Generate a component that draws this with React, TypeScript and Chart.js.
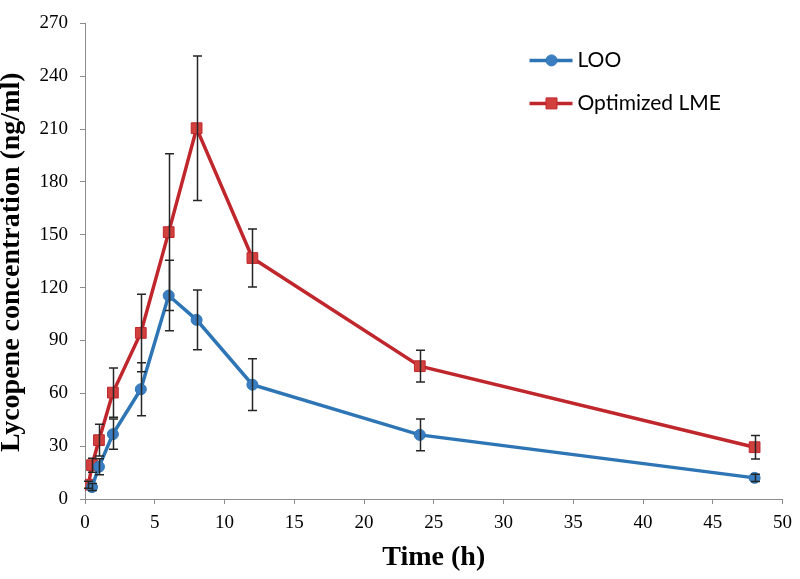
import React, { useEffect, useRef } from 'react';
import { Chart, registerables } from 'chart.js';

Chart.register(...registerables);

// ---- Data ----
const looTimes = [0.5, 1, 2, 4, 6, 8, 12, 24, 48];
const looValues = [6.8, 18.3, 36.8, 62.3, 115.5, 101.7, 64.9, 36.4, 12.0];
const looErrors = [2, 4.5, 8.6, 15, 20, 17, 14.7, 9, 2];

const lmeTimes = [0.25, 0.5, 1, 2, 4, 6, 8, 12, 24, 48];
const lmeValues = [8.1, 19.2, 33.4, 60.4, 94.3, 151.5, 210.5, 136.8, 75.4, 29.4];
const lmeErrors = [2, 4, 9, 14, 22, 44.5, 41, 16.5, 9, 6.7];

const seriesNames = ['LOO', 'Optimized LME'];
const xTitle = 'Time (h)';
const yTitle = 'Lycopene concentration (ng/ml)';

const BLUE = '#2E75B6';
const BLUE_FILL = '#3A7EC1';
const RED = '#C0272D';
const RED_FILL = '#D2403E';

const errorSets = [looErrors, lmeErrors];

const errorBarsPlugin = {
  id: 'errorBars',
  afterDatasetsDraw(chart: any) {
    const { ctx } = chart;
    const x = chart.scales.x;
    const y = chart.scales.y;
    ctx.save();
    ctx.strokeStyle = '#262626';
    ctx.lineWidth = 1.5;
    chart.data.datasets.forEach((ds: any, i: number) => {
      const errs = errorSets[i];
      ds.data.forEach((p: any, j: number) => {
        const e = errs[j];
        const px = Math.round(x.getPixelForValue(p.x)) + 0.5;
        const top = y.getPixelForValue(p.y + e);
        const bot = y.getPixelForValue(Math.max(0, p.y - e));
        const cap = 4.5;
        ctx.beginPath();
        ctx.moveTo(px, top);
        ctx.lineTo(px, bot);
        ctx.moveTo(px - cap, top);
        ctx.lineTo(px + cap, top);
        ctx.moveTo(px - cap, bot);
        ctx.lineTo(px + cap, bot);
        ctx.stroke();
      });
    });
    ctx.restore();
  },
};

const overlayPlugin = {
  id: 'overlay',
  afterDraw(chart: any) {
    const { ctx, chartArea } = chart;
    ctx.save();
    // Y axis title
    ctx.translate(12, (chartArea.top + chartArea.bottom) / 2 + 1);
    ctx.rotate(-Math.PI / 2);
    ctx.font = 'bold 28px "Liberation Serif"';
    ctx.fillStyle = '#000';
    ctx.textAlign = 'center';
    ctx.textBaseline = 'middle';
    ctx.fillText(yTitle, 0, 0);
    ctx.restore();

    // Legend
    const items = [
      { name: seriesNames[0], color: BLUE, fill: BLUE_FILL, style: 'circle', y: chartArea.top + 37 },
      { name: seriesNames[1], color: RED, fill: RED_FILL, style: 'rect', y: chartArea.top + 80 },
    ];
    const x0 = chartArea.right - 253;
    ctx.save();
    items.forEach((it) => {
      ctx.strokeStyle = it.color;
      ctx.lineWidth = 3.5;
      ctx.beginPath();
      ctx.moveTo(x0, it.y);
      ctx.lineTo(x0 + 43, it.y);
      ctx.stroke();
      ctx.fillStyle = it.fill;
      ctx.strokeStyle = it.color;
      ctx.lineWidth = 1;
      ctx.beginPath();
      if (it.style === 'circle') {
        ctx.arc(x0 + 22, it.y, 5.5, 0, Math.PI * 2);
      } else {
        ctx.rect(x0 + 22 - 5.5, it.y - 5.5, 11, 11);
      }
      ctx.fill();
      ctx.stroke();
      ctx.fillStyle = '#000';
      ctx.font = '21px Lato';
      ctx.textAlign = 'left';
      ctx.textBaseline = 'middle';
      ctx.fillText(it.name, x0 + 48, it.y);
    });
    ctx.restore();
  },
};

export default function App() {
  const ref = useRef<HTMLCanvasElement | null>(null);

  useEffect(() => {
    if (!ref.current) return;
    const chart = new Chart(ref.current, {
      type: 'line',
      data: {
        datasets: [
          {
            label: seriesNames[0],
            data: looTimes.map((t, i) => ({ x: t, y: looValues[i] })),
            borderColor: BLUE,
            backgroundColor: BLUE_FILL,
            pointBackgroundColor: BLUE_FILL,
            pointBorderColor: BLUE,
            borderWidth: 3.5,
            pointStyle: 'circle',
            pointRadius: 5.5,
            pointBorderWidth: 1,
            tension: 0,
          },
          {
            label: seriesNames[1],
            data: lmeTimes.map((t, i) => ({ x: t, y: lmeValues[i] })),
            borderColor: RED,
            backgroundColor: RED_FILL,
            pointBackgroundColor: RED_FILL,
            pointBorderColor: RED,
            borderWidth: 3.5,
            pointStyle: 'rect',
            pointRadius: 7.6,
            pointBorderWidth: 1,
            tension: 0,
          },
        ],
      },
      options: {
        responsive: false,
        animation: false,
        layout: { padding: { top: 12, right: 14, left: 0, bottom: 0 } },
        plugins: {
          legend: { display: false },
          tooltip: { enabled: false },
        },
        scales: {
          x: {
            type: 'linear',
            min: 0,
            max: 50,
            ticks: {
              stepSize: 5,
              color: '#000',
              font: { family: '"Liberation Serif"', size: 19 },
              padding: 8,
              maxRotation: 0,
            },
            grid: { drawOnChartArea: false, drawTicks: true, tickLength: 5, color: '#8c8c8c' },
            border: { display: true, color: '#8c8c8c', width: 1 },
            title: {
              display: true,
              text: xTitle,
              color: '#000',
              font: { family: '"Liberation Serif"', size: 28, weight: 'bold' },
              padding: { top: 0, bottom: 4 },
            },
            afterFit(scale: any) {
              scale.height = 80;
            },
          },
          y: {
            type: 'linear',
            min: 0,
            max: 270,
            ticks: {
              stepSize: 30,
              color: '#000',
              font: { family: '"Liberation Serif"', size: 19 },
              padding: 12,
            },
            grid: { drawOnChartArea: false, drawTicks: true, tickLength: 5, color: '#8c8c8c' },
            border: { display: true, color: '#8c8c8c', width: 1 },
            afterFit(scale: any) {
              scale.width = 85;
            },
          },
        },
      },
      plugins: [errorBarsPlugin, overlayPlugin],
    } as any);
    return () => chart.destroy();
  }, []);

  return (
    <div style={{ position: 'fixed', left: 0, top: 0, width: 800, height: 579, background: '#fff' }}>
      <canvas ref={ref} width={800} height={579} />
    </div>
  );
}
